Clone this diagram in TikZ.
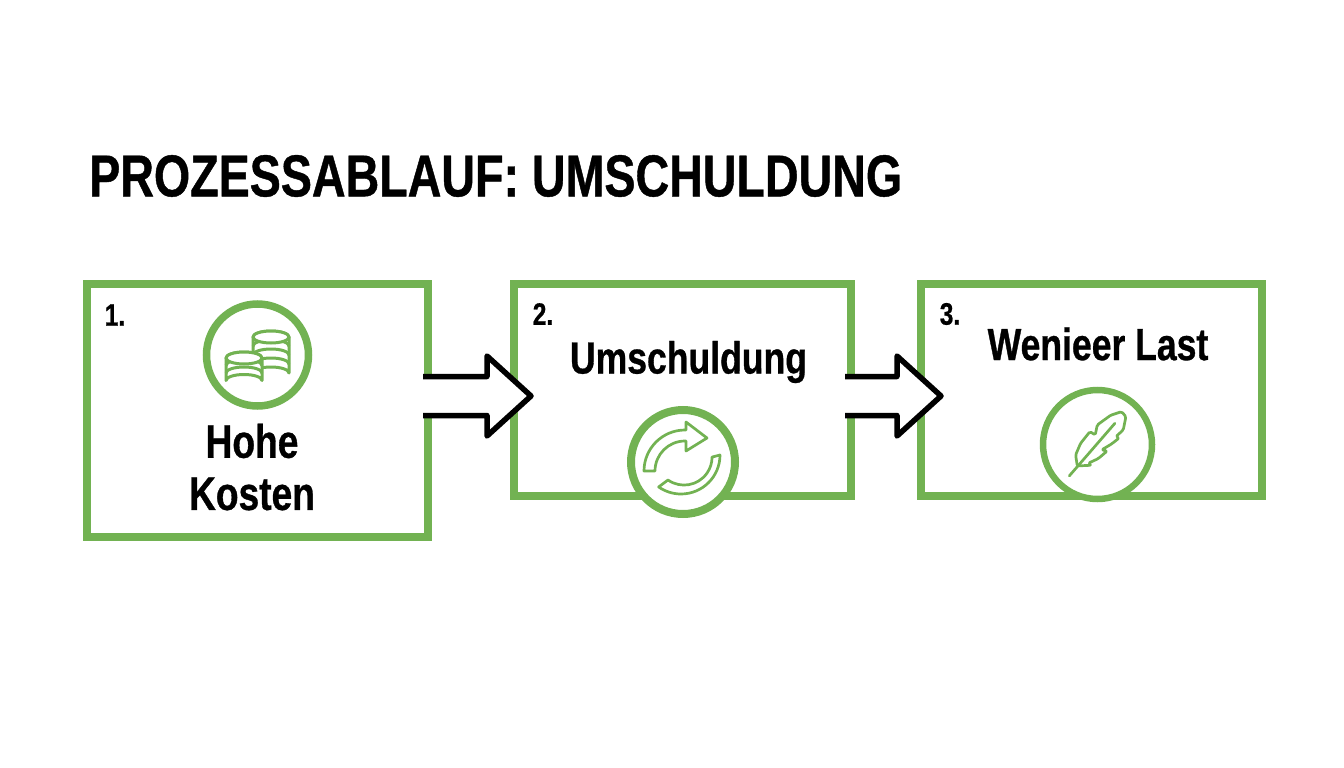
\documentclass[tikz,border=0pt]{standalone}
\usepackage{fontspec}
\usepackage{xcolor}
\setmainfont[FakeStretch=0.79,BoldFeatures={FakeBold=0.7}]{Liberation Sans}
\definecolor{leafgreen}{RGB}{114,178,82}

\newcommand{\coinstack}[4]{% x, top y, number of bands, band gap
  \draw[icon,fill=white] (#1-18,#2) -- (#1-18,#2+#3*#4) arc[start angle=180,end angle=0,x radius=18,y radius=-6] -- (#1+18,#2) -- cycle;
  \foreach \b in {1,...,#3} {
    \draw[icon] (#1-18,#2+\b*#4-#4) arc[start angle=180,end angle=0,x radius=18,y radius=-6];
  }
  \draw[icon,fill=white] (#1,#2) ellipse[x radius=18,y radius=6];
}

\tikzset{
  stepbox/.style={draw=leafgreen,line width=8pt,inner sep=0pt},
  ring/.style={circle,draw=leafgreen,fill=white,inner sep=0pt},
  icon/.style={draw=leafgreen,line width=3pt,line join=round},
  flowarrow/.style={draw=black,fill=white,line width=5.5pt,line join=round},
  steplabel/.style={font=\fontsize{45}{45}\selectfont\bfseries,align=center,inner sep=0pt},
  biglabel/.style={font=\fontsize{47}{47}\selectfont\bfseries,align=center,inner sep=0pt},
  stepnum/.style={font=\fontsize{31}{31}\selectfont\bfseries,inner sep=0pt}
}

\begin{document}
\begin{tikzpicture}[x=1pt,y=-1pt]
  \useasboundingbox (0,0) rectangle (1344,768);

  % title
  \node[font=\fontsize{59}{59}\selectfont\bfseries,anchor=west,inner sep=0pt] (title) at (89,176) {PROZESSABLAUF: UMSCHULDUNG};

  % boxes
  \node[stepbox,minimum width=341pt,minimum height=253pt] (box1) at (257.5,410.5) {};
  \node[stepbox,minimum width=337pt,minimum height=212pt] (box2) at (682.5,390) {};
  \node[stepbox,minimum width=341pt,minimum height=212pt] (box3) at (1091.5,390) {};

  % numbers
  \node[stepnum] (num1) at (115,315) {1.};
  \node[stepnum] (num2) at (543,314) {2.};
  \node[stepnum] (num3) at (950,314) {3.};

  % labels
  \node[biglabel] (hohe) at (252,441) {Hohe};
  \node[biglabel] (kosten) at (252,494) {Kosten};
  \node[steplabel] (umschuldung) at (688.5,362) {Umschuldung};
  \node[steplabel] (last) at (1098,344) {Wenieer Last};

  % arrows
  \coordinate (tail1) at (423,396);
  \coordinate (tip1) at (531,396);
  \coordinate (tail2) at (845,396);
  \coordinate (tip2) at (941,396);
  \draw[flowarrow] (tail1) ++(0,-19.5) -- ++(64,0) -- ++(0,-20.5) -- (tip1) -- ++(-44,40) -- ++(0,-20.5) -- ++(-64,0);
  \draw[flowarrow] (tail2) ++(0,-19.5) -- ++(52,0) -- ++(0,-20.5) -- (tip2) -- ++(-44,40) -- ++(0,-20.5) -- ++(-52,0);

  % coins
  \node[ring,line width=7.5pt,minimum size=102pt] (ring1) at (257.5,355) {};
  \coinstack{271}{337}{4}{9}
  \coinstack{244}{358}{3}{7.5}

  % refresh
  \node[ring,line width=8pt,minimum size=104pt] (ring2) at (683,462) {};
  \draw[icon,line width=2.7pt] (644,471) arc[start angle=180,end angle=270,radius=41]
    -- (686,430) -- (686,422) -- (707,438) -- (686,451) -- (686,441) -- (685,441)
    arc[start angle=270,end angle=180,radius=30] -- cycle;
  \draw[icon,line width=2.7pt] (720,455) arc[start angle=0,end angle=125,radius=39]
    -- (668,480) arc[start angle=125,end angle=0,radius=28] -- cycle;

  % feather
  \node[ring,line width=6.5pt,minimum size=109pt] (ring3) at (1097.5,444.5) {};
  \begin{scope}[shift={(1020,380)},x=0.333pt,y=-0.333pt]
    \draw[icon,line width=2.7pt,rounded corners=1.5pt] (172,258) -- (167,225) -- (182,190) -- (210,155) -- (226,165)
      -- (232,135) -- (272,106) -- (305,95) -- (318,110) -- (310,150) -- (288,170) -- (298,174) -- (275,192)
      -- (245,210) -- (262,213) -- (235,236) -- (205,250) -- (215,256) -- cycle;
    \draw[icon,line width=2.7pt,line cap=round] (148,288) -- (285,130);
  \end{scope}
\end{tikzpicture}
\end{document}
